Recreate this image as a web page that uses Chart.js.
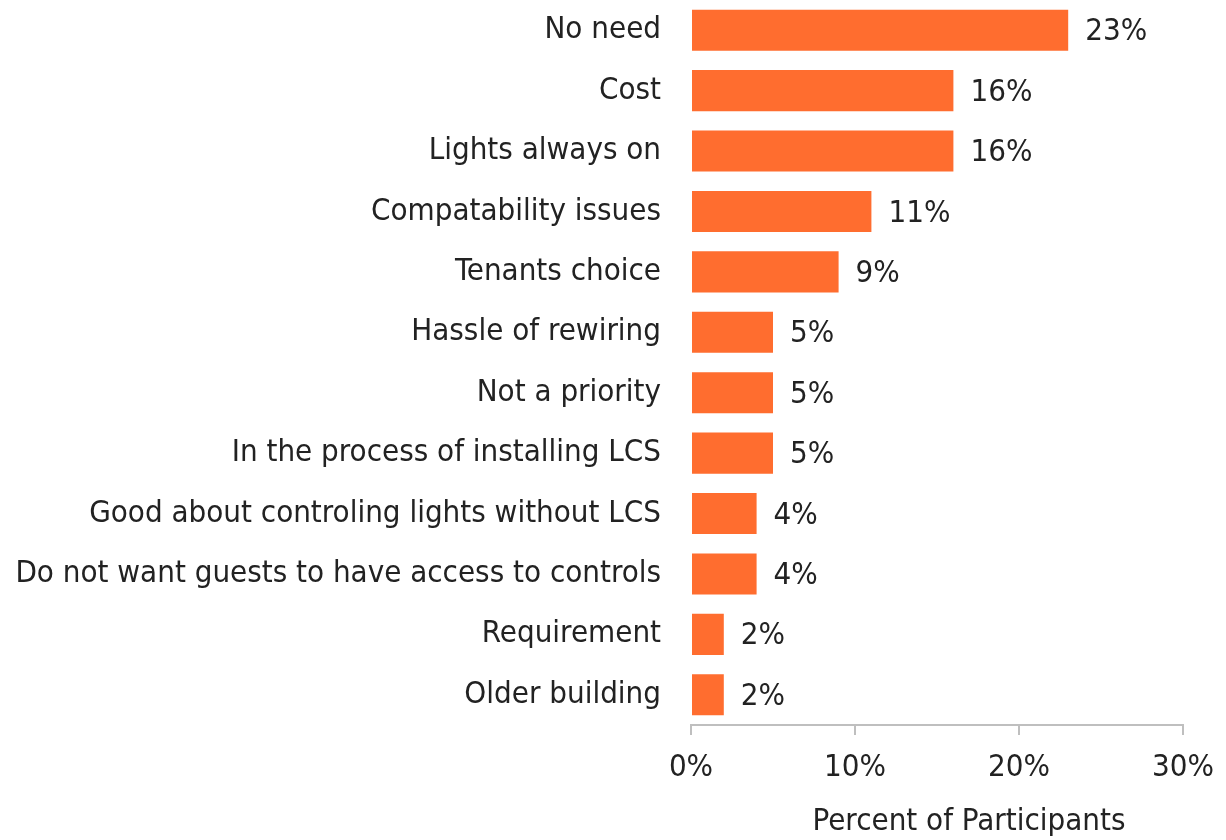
<!DOCTYPE html>
<html>
<head>
<meta charset="utf-8">
<script src="https://cdn.jsdelivr.net/npm/chart.js@4"></script>
<style>
  html, body { margin: 0; padding: 0; background: #fff; }
  #wrap { width: 1226px; height: 840px; }
</style>
</head>
<body>
<div id="wrap"><canvas id="chart" width="1226" height="840"></canvas></div>
<script>
// Reasons for not installing LCS
const reasons = [
    'No need',
    'Cost',
    'Lights always on',
    'Compatability issues',
    'Tenants choice',
    'Hassle of rewiring',
    'Not a priority',
    'In the process of installing LCS',
    'Good about controling lights without LCS',
    'Do not want guests to have access to controls',
    'Requirement',
    'Older building'
];
const percents = [23, 16, 16, 11, 9, 5, 5, 5, 4, 4, 2, 2];
const xTicks = [0, 10, 20, 30];

const FONT = "'DejaVu Sans Condensed', 'DejaVu Sans', sans-serif";
const SIZE = 31;
const TEXT = '#222222';
const BAR = '#ff6d2f';
const AXIS = '#bfbfbf';

// draws "23%" etc. to the right of each bar
const barLabels = {
    id: 'barLabels',
    afterDatasetsDraw(chart) {
        const ctx = chart.ctx;
        const meta = chart.getDatasetMeta(0);
        ctx.save();
        ctx.font = `${SIZE}px ${FONT}`;
        ctx.fillStyle = TEXT;
        ctx.textAlign = 'left';
        ctx.textBaseline = 'middle';
        meta.data.forEach((bar, i) => {
            ctx.fillText(percents[i] + '%', bar.x + 17, bar.y + 2);
        });
        ctx.restore();
    }
};

// axis title sits a bit right of the plot centre in the original
const axisTitle = {
    id: 'axisTitle',
    afterDraw(chart) {
        const ctx = chart.ctx;
        const a = chart.chartArea;
        ctx.save();
        ctx.font = `${SIZE}px ${FONT}`;
        ctx.fillStyle = TEXT;
        ctx.textAlign = 'center';
        ctx.textBaseline = 'middle';
        ctx.fillText('Percent of Participants', (a.left + a.right) / 2 + 32, a.bottom + 97);
        ctx.restore();
    }
};

new Chart(document.getElementById('chart'), {
    type: 'bar',
    data: {
        labels: reasons,
        datasets: [{
            data: percents,
            backgroundColor: BAR,
            borderWidth: 0,
            categoryPercentage: 0.68,
            barPercentage: 1
        }]
    },
    options: {
        indexAxis: 'y',
        responsive: false,
        animation: false,
        layout: { padding: { top: 0, right: 43, bottom: 0, left: 0 } },
        plugins: {
            legend: { display: false },
            tooltip: { enabled: false }
        },
        scales: {
            y: {
                afterFit(scale) {
                    scale.width = 691;
                    scale.paddingTop = 0;
                    scale.paddingBottom = 0;
                },
                border: { display: false },
                grid: { display: false, drawTicks: false },
                ticks: {
                    color: TEXT,
                    padding: 30,
                    font: { family: FONT, size: SIZE }
                }
            },
            x: {
                min: 0,
                max: 30,
                afterFit(scale) {
                    scale.height = 115;
                    scale.paddingLeft = 0;
                    scale.paddingRight = 0;
                },
                afterBuildTicks(scale) { scale.ticks = xTicks.map(v => ({ value: v })); },
                border: { display: true, color: AXIS, width: 2 },
                grid: {
                    drawOnChartArea: false,
                    drawTicks: true,
                    tickLength: 10,
                    color: AXIS,
                    lineWidth: 2
                },
                ticks: {
                    color: TEXT,
                    padding: 14,
                    maxRotation: 0,
                    font: { family: FONT, size: SIZE },
                    callback: v => v + '%'
                }
            }
        }
    },
    plugins: [barLabels, axisTitle]
});
</script>
</body>
</html>
